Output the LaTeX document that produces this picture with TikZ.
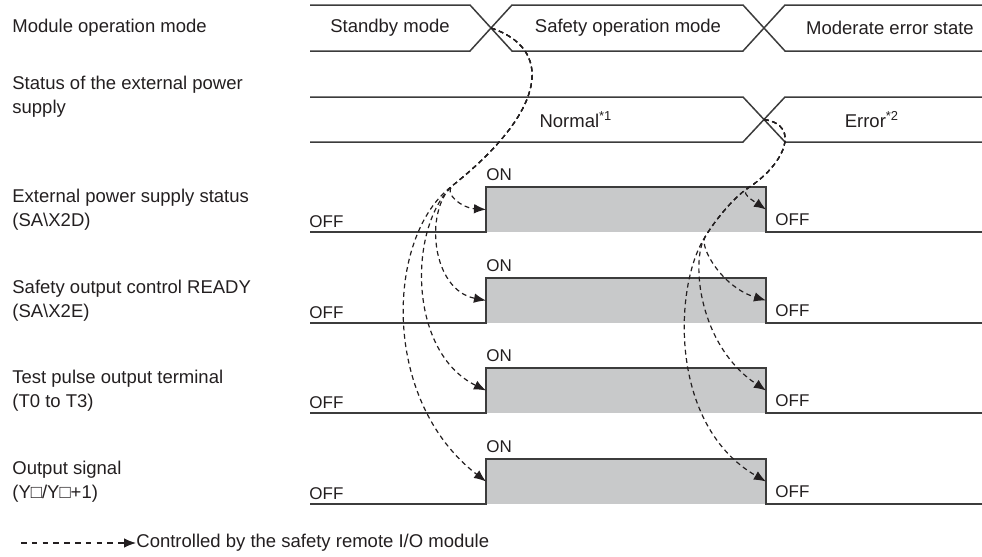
\documentclass[tikz,border=0pt]{standalone}
\usepackage{fontspec}
\setmainfont{Liberation Sans}
\usetikzlibrary{arrows.meta}

\definecolor{sigline}{RGB}{60,60,60}
\definecolor{sigfill}{RGB}{200,201,202}
\definecolor{txt}{RGB}{35,31,32}

\begin{document}
\begin{tikzpicture}[x=0.5pt, y=-0.5pt,
    every node/.style={text=txt, font=\fontsize{9.25}{12}\selectfont, inner sep=0pt},
    lbl/.style={anchor=west, align=left},
    lvl/.style={anchor=west, font=\fontsize{8.5}{10}\selectfont},
    wave/.style={draw=sigline, line width=0.75pt},
    ctrl/.style={draw=txt, line width=0.6pt, dash pattern=on 2.4pt off 1.8pt,
                 -{Latex[length=6pt, width=4.8pt]}}]
    % --- Configuration ---
    \def\xL{310}      % Start of the waveforms
    \def\xEnd{982}    % Right edge
    \def\xA{470}      % First bus transition
    \def\xB{743}      % Second bus transition
    \def\tw{42}       % Width of a bus transition
    \def\xOn{486}     % Rising edge of the signals
    \def\xOff{766}    % Falling edge of the signals
    \def\sigH{45}     % Height of a signal

    \useasboundingbox (0,0) rectangle (982,557);

    % --- Module operation mode ---
    \node[lbl] (lblmode) at (12,28) {Module operation mode};
    \draw[wave] (\xL,5) -- (\xA,5) -- (\xA+\tw,51) -- (\xB,51) -- (\xB+\tw,5) -- (\xEnd,5);
    \draw[wave] (\xL,51) -- (\xA,51) -- (\xA+\tw,5) -- (\xB,5) -- (\xB+\tw,51) -- (\xEnd,51);
    \coordinate (cross1) at (\xA+\tw/2,28);
    \node (standby) at (390,28) {Standby mode};
    \node (safeop) at (628,28) {Safety operation mode};
    \node (moderr) at (890,28) {Moderate error state};

    % --- Status of the external power supply ---
    \node[lbl] (lblpwr) at (12,96.5) {Status of the external power\\supply};
    \draw[wave] (\xL,97) -- (\xB,97) -- (\xB+\tw,142) -- (\xEnd,142);
    \draw[wave] (\xL,142) -- (\xB,142) -- (\xB+\tw,97) -- (\xEnd,97);
    \coordinate (cross2) at (\xB+\tw/2,119.5);
    \node (normal) at (576,119.5) {Normal\textsuperscript{*1}};
    \node (error) at (872,119.5) {Error\textsuperscript{*2}};

    % --- Signals ---
    \foreach \low/\txt [count=\i] in {
        232/{External power supply status\\(SA\textbackslash X2D)},
        323/{Safety output control READY\\(SA\textbackslash X2E)},
        413/{Test pulse output terminal\\(T0 to T3)},
        504/{Output signal\\(Y□/Y□+1)}} {
        \fill[sigfill] (\xOn,\low-\sigH) rectangle (\xOff,\low);
        \draw[wave] (\xL,\low) -- (\xOn,\low) -- (\xOn,\low-\sigH) -- (\xOff,\low-\sigH) -- (\xOff,\low) -- (\xEnd,\low);
        \node[lbl] (lbl\i) at (12,\low-22) {\txt};
        \node[lvl] (offL\i) at (309,\low-10) {OFF};
        \node[lvl] (on\i) at (\xOn,\low-\sigH-12) {ON};
        \node[lvl] (offR\i) at (\xOff+9,\low-12) {OFF};
        \coordinate (rise\i) at (\xOn,\low-\sigH/2);
        \coordinate (fall\i) at (\xOff,\low-\sigH/2);
    }

    % --- Controlled transitions (start of safety operation) ---
    \coordinate (split1) at (452,186);
    \draw[ctrl] (cross1) .. controls (552,48) and (550,108) .. (split1) .. controls (444,194) and (462,208) .. (rise1);
    \draw[ctrl] (cross1) .. controls (552,48) and (550,108) .. (split1) .. controls (424,212) and (432,290) .. (rise2);
    \draw[ctrl] (cross1) .. controls (552,48) and (550,108) .. (split1) .. controls (408,228) and (408,352) .. (rise3);
    \draw[ctrl] (cross1) .. controls (552,48) and (550,108) .. (split1) .. controls (386,236) and (380,400) .. (rise4);

    % --- Controlled transitions (power supply error) ---
    \coordinate (split2) at (748,188);
    \coordinate (split3) at (705,237);
    \draw[ctrl] (cross2) .. controls (802,125) and (784,165) .. (split2) .. controls (740,193) and (752,200) .. (fall1);
    \draw[ctrl] (cross2) .. controls (802,125) and (784,165) .. (split2) .. controls (732,199) and (714,222) .. (split3)
        .. controls (699,247) and (722,287) .. (fall2);
    \draw[ctrl] (cross2) .. controls (802,125) and (784,165) .. (split2) .. controls (732,199) and (714,222) .. (split3)
        .. controls (691,260) and (698,345) .. (fall3);
    \draw[ctrl] (cross2) .. controls (802,125) and (784,165) .. (split2) .. controls (732,199) and (714,222) .. (split3)
        .. controls (674,285) and (668,425) .. (fall4);

    % --- Legend ---
    \coordinate (legstart) at (21,543);
    \node[lbl] (legend) at (136,543) {Controlled by the safety remote I/O module};
    \draw[ctrl, dash pattern=on 2.8pt off 2.6pt] (legstart) -- (legend.west);
\end{tikzpicture}
\end{document}
